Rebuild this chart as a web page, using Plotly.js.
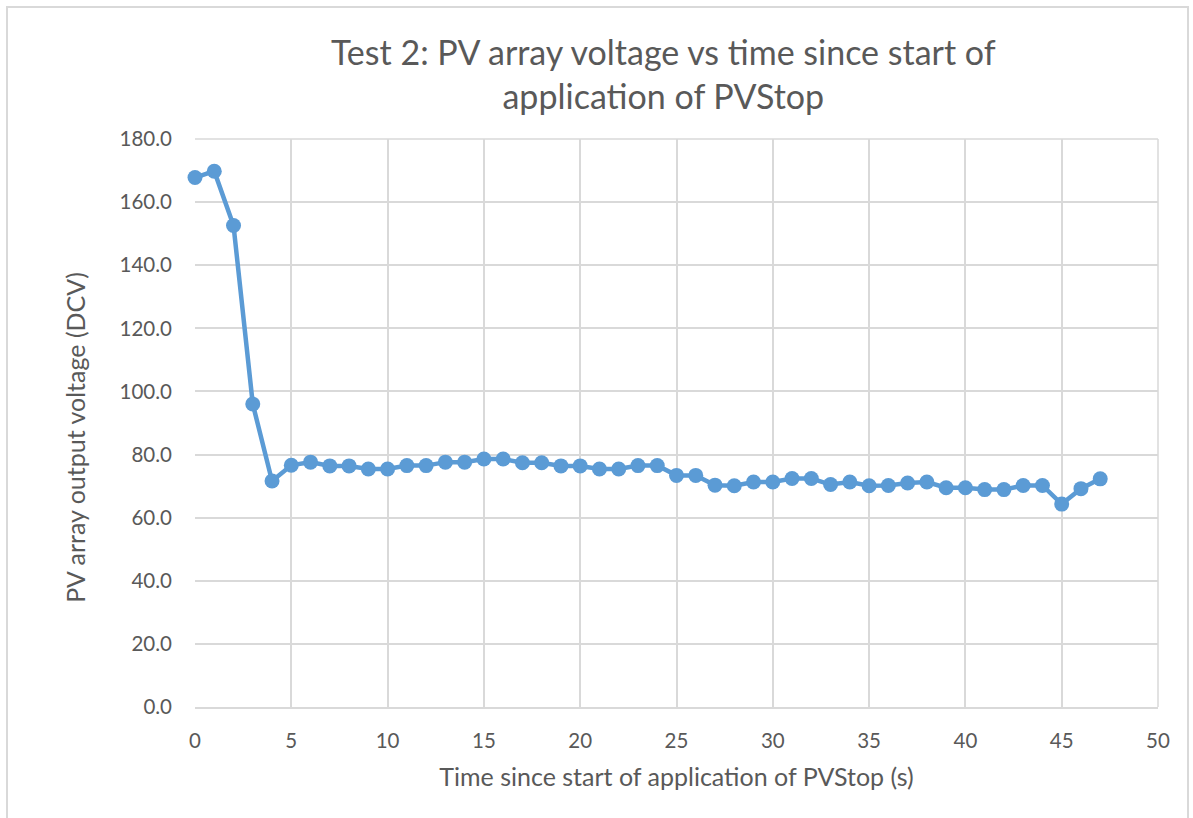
<!DOCTYPE html>
<html>
<head>
<meta charset="utf-8">
<script src="https://cdn.plot.ly/plotly-3.0.1.min.js"></script>
<style>
  html, body { margin: 0; padding: 0; background: #ffffff; overflow: hidden; }
  #frame { position: absolute; left: 6px; top: 6px; width: 1183px; height: 830px; border: 2px solid #d9d9d9; border-bottom: none; box-sizing: border-box; pointer-events: none; }
  #chart { position: absolute; left: 0; top: 0; width: 1193px; height: 818px; }
</style>
</head>
<body>
<div id="chart"></div>
<div id="frame"></div>
<script>
// Time since start of application of PVStop (s)
const timeSeconds = [0, 1, 2, 3, 4, 5, 6, 7, 8, 9, 10, 11, 12, 13, 14, 15, 16, 17, 18, 19, 20, 21, 22, 23, 24, 25, 26, 27, 28, 29, 30, 31, 32, 33, 34, 35, 36, 37, 38, 39, 40, 41, 42, 43, 44, 45, 46, 47];
// PV array output voltage (DCV)
const voltageDCV = [167.8, 169.8, 152.6, 96.0, 71.6, 76.6, 77.6, 76.4, 76.4, 75.4, 75.4, 76.5, 76.5, 77.6, 77.6, 78.6, 78.6, 77.4, 77.4, 76.4, 76.4, 75.4, 75.4, 76.5, 76.5, 73.4, 73.4, 70.3, 70.1, 71.3, 71.3, 72.4, 72.4, 70.5, 71.3, 70.1, 70.2, 71.0, 71.3, 69.5, 69.5, 68.9, 68.9, 70.2, 70.2, 64.3, 69.2, 72.3];

const chartTitle = 'Test 2: PV array voltage vs time since start of<br>application of PVStop';
const xTitle = 'Time since start of application of PVStop (s)';
const yTitle = 'PV array output voltage (DCV)';

const textColor = '#595959';
const gridColor = '#d9d9d9';
const fontFamily = 'Lato, "Open Sans", sans-serif';

const trace = {
  x: timeSeconds,
  y: voltageDCV,
  type: 'scatter',
  mode: 'lines+markers',
  line: { color: '#5b9bd5', width: 4.5 },
  marker: { color: '#5b9bd5', size: 15 },
  cliponaxis: false,
  hoverinfo: 'x+y',
  showlegend: false
};

const layout = {
  width: 1193,
  height: 818,
  paper_bgcolor: '#ffffff',
  plot_bgcolor: '#ffffff',
  margin: { l: 195, r: 35, t: 139, b: 111 },
  font: { family: fontFamily, color: textColor },
  title: {
    text: chartTitle,
    font: { family: fontFamily, size: 34, color: textColor },
    x: 0.556,
    xref: 'container',
    xanchor: 'center',
    y: 0.921,
    yref: 'container',
    yanchor: 'top'
  },
  xaxis: {
    range: [0, 50],
    dtick: 5,
    tick0: 0,
    showgrid: true,
    gridcolor: gridColor,
    gridwidth: 1.5,
    zeroline: false,
    showline: true,
    linecolor: gridColor,
    linewidth: 1.5,
    mirror: false,
    ticks: '',
    ticklabelstandoff: 15,
    tickfont: { family: fontFamily, size: 20.5, color: textColor },
    title: { text: xTitle, font: { family: fontFamily, size: 25, color: textColor }, standoff: 17 },
    fixedrange: true
  },
  yaxis: {
    range: [0, 180],
    dtick: 20,
    tick0: 0,
    tickformat: '.1f',
    showgrid: true,
    gridcolor: gridColor,
    gridwidth: 1.5,
    zeroline: false,
    showline: false,
    ticks: '',
    ticklabelstandoff: 22,
    tickfont: { family: fontFamily, size: 20.5, color: textColor },
    fixedrange: true
  },
  annotations: [
    {
      text: yTitle,
      textangle: -90,
      xref: 'paper', yref: 'paper',
      x: -0.1246, y: 0.474,
      xanchor: 'center', yanchor: 'middle',
      showarrow: false,
      font: { family: fontFamily, size: 25, color: textColor }
    }
  ],
  shapes: [
    { type: 'line', xref: 'paper', yref: 'paper', x0: 1, x1: 1, y0: 0, y1: 1, line: { color: gridColor, width: 1.5 }, layer: 'below' },
    { type: 'line', xref: 'paper', yref: 'paper', x0: 0, x1: 1, y0: 1, y1: 1, line: { color: gridColor, width: 1.5 }, layer: 'below' }
  ]
};

Plotly.newPlot('chart', [trace], layout, { displayModeBar: false, staticPlot: false });
</script>
</body>
</html>
